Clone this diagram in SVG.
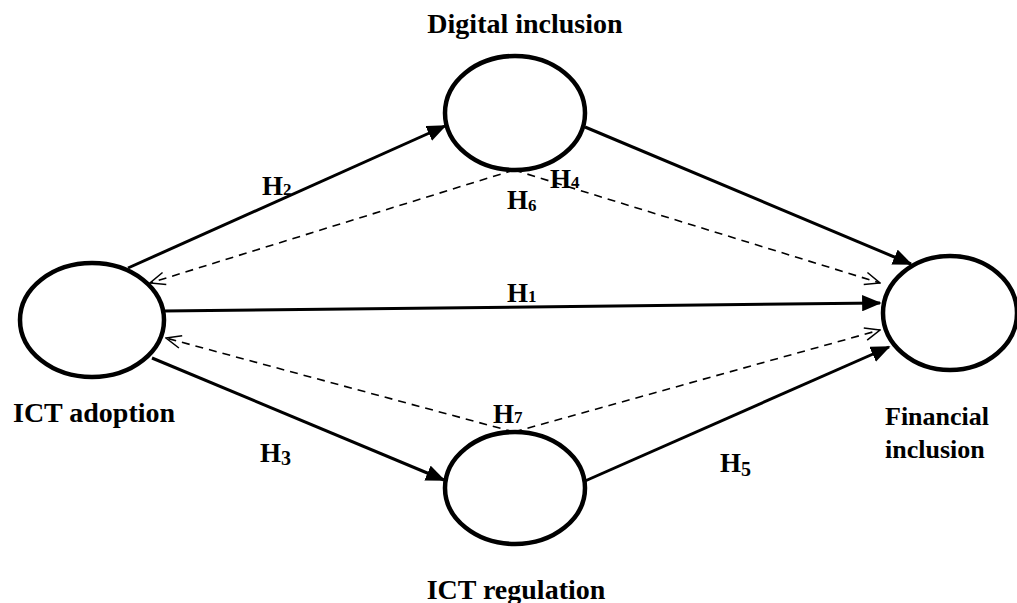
<svg xmlns="http://www.w3.org/2000/svg" width="1017" height="603" viewBox="0 0 1017 603">
  <defs>
    <style>
      .node { fill: #fff; stroke: #000; stroke-width: 4.5; }
      text { font-family: "Liberation Serif", "DejaVu Serif", "Times New Roman", serif; font-weight: bold; fill: #000; }
      .lbl { font-size: 28px; }
      .lbl-sm { font-size: 26px; }
      .h { font-size: 27px; }
      .sub { font-size: 17px; }
      .sub2 { font-size: 20px; }
      .solid { stroke: #000; stroke-width: 3; fill: none; marker-end: url(#filled); }
      .dash { stroke: #000; stroke-width: 1.6; fill: none; stroke-dasharray: 8 6; marker-end: url(#open); }
    </style>
    <marker id="filled" viewBox="0 0 12 10" refX="11" refY="5" markerWidth="6.5" markerHeight="5.5" orient="auto" markerUnits="strokeWidth">
      <path d="M0,0 L12,5 L0,10 Z" fill="#000"/>
    </marker>
    <marker id="open" viewBox="0 0 14 12" refX="13" refY="6" markerWidth="11" markerHeight="9.5" orient="auto" markerUnits="strokeWidth">
      <path d="M1,1 L13,6 L1,11" fill="none" stroke="#000" stroke-width="1.2"/>
    </marker>
  </defs>

  <!-- connectors -->
  <g id="connectors">
    <line class="solid" x1="128" y1="268" x2="445" y2="126"/>
    <line class="solid" x1="585" y1="127" x2="911" y2="264"/>
    <line class="solid" x1="163" y1="311" x2="880" y2="303"/>
    <line class="solid" x1="152" y1="358" x2="444" y2="480"/>
    <line class="solid" x1="585" y1="481" x2="889" y2="347"/>
    <line class="dash" x1="514" y1="170" x2="150" y2="283"/>
    <line class="dash" x1="514" y1="170" x2="880" y2="283"/>
    <line class="dash" x1="514" y1="432" x2="166" y2="338"/>
    <line class="dash" x1="514" y1="432" x2="880" y2="330"/>
  </g>

  <!-- hypothesis labels -->
  <g id="hyp-labels">
    <text class="h" x="262" y="195">H<tspan class="sub">2</tspan></text>
    <text class="h" x="550" y="188">H<tspan class="sub">4</tspan></text>
    <text class="h" x="507" y="209">H<tspan class="sub" dy="2">6</tspan></text>
    <text class="h" x="507" y="302">H<tspan class="sub">1</tspan></text>
    <text class="h" x="493" y="423">H<tspan class="sub">7</tspan></text>
    <text class="h" x="260" y="462">H<tspan class="sub2" dy="3">3</tspan></text>
    <text class="h" x="720" y="472">H<tspan class="sub2" dy="4">5</tspan></text>
  </g>

  <g id="digital-inclusion">
    <ellipse class="node" cx="515" cy="113" rx="70" ry="57"/>
    <text class="lbl" x="525" y="33" text-anchor="middle">Digital inclusion</text>
  </g>

  <g id="ict-adoption">
    <ellipse class="node" cx="92" cy="320" rx="72" ry="57"/>
    <text class="lbl" x="13" y="422">ICT adoption</text>
  </g>

  <g id="financial-inclusion">
    <ellipse class="node" cx="950" cy="313" rx="67" ry="57"/>
    <text class="lbl-sm" x="885" y="425">Financial</text>
    <text class="lbl-sm" x="885" y="458">inclusion</text>
  </g>

  <g id="ict-regulation">
    <ellipse class="node" cx="515" cy="488" rx="70" ry="56"/>
    <text class="lbl" x="516" y="599" text-anchor="middle">ICT regulation</text>
  </g>
</svg>
